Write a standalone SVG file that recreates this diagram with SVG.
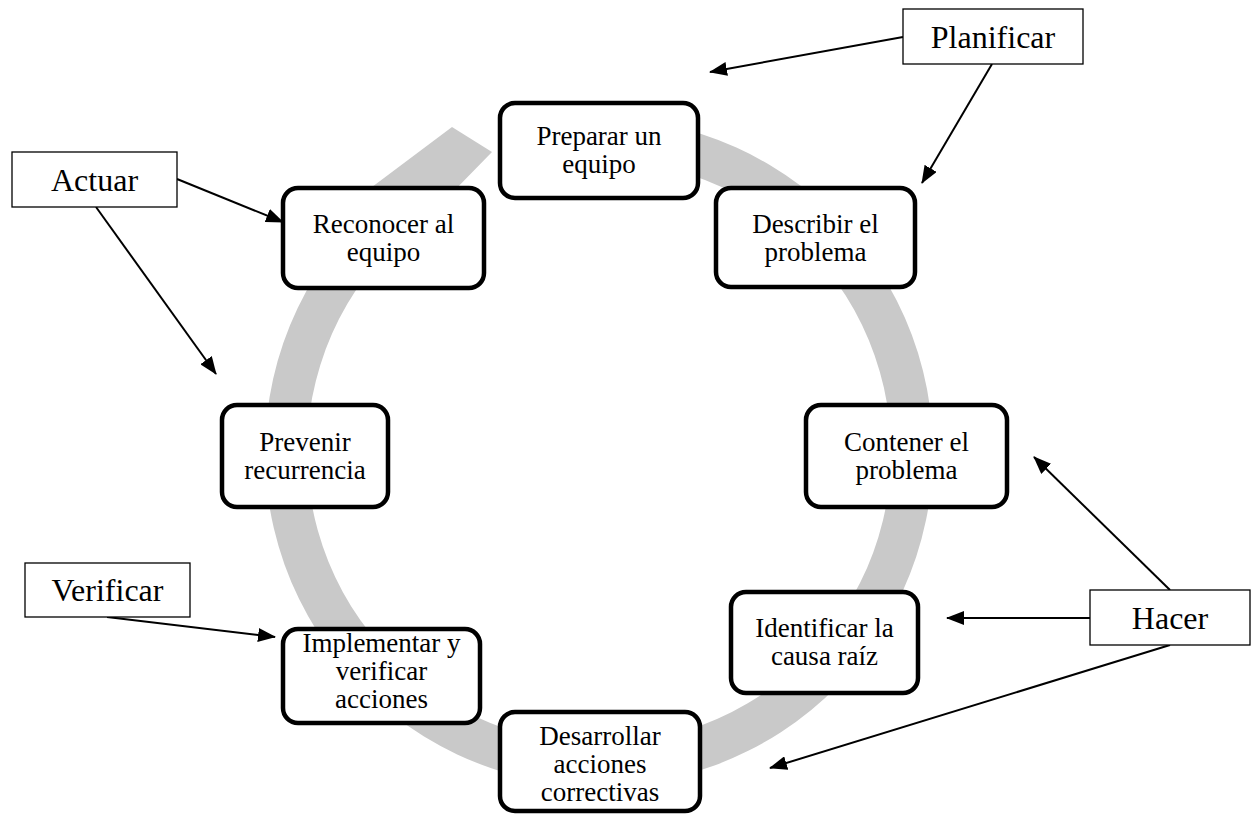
<svg xmlns="http://www.w3.org/2000/svg" width="1259" height="814" viewBox="0 0 1259 814">
  <defs>
    <marker id="arrow" markerUnits="userSpaceOnUse" viewBox="0 0 18 14" markerWidth="18" markerHeight="14" refX="17" refY="7" orient="auto">
      <path d="M0,0 L18,7 L0,14 z" fill="#000"/>
    </marker>
    <style>
      .node rect { fill: #fff; stroke: #000; stroke-width: 4.5; }
      .node text { font-family: "Liberation Serif", "Times New Roman", serif; font-size: 27px; fill: #000; text-anchor: middle; }
      .label rect { fill: #fff; stroke: #000; stroke-width: 1.3; }
      .label text { font-family: "Liberation Serif", "Times New Roman", serif; font-size: 32px; fill: #000; text-anchor: middle; }
      .conn line { stroke: #000; stroke-width: 2; marker-end: url(#arrow); }
    </style>
  </defs>
  <rect width="1259" height="814" fill="#fff"/>

  <!-- circular cycle arrow: ring from under the top step, clockwise, ending in a flared head at top-left -->
  <g id="cycle">
    <path d="M 552.5 121.3 A 334 334 0 1 1 315.8 275 L 372 187 L 452 127 L 492 152 L 450 195 L 365.8 276.3 A 292 292 0 1 0 558.4 162.8 Z" fill="#c9c9c9"/>
  </g>

  <!-- connectors -->
  <g id="connectors" class="conn">
    <line x1="903" y1="37" x2="710" y2="72"/>
    <line x1="992" y1="64" x2="922" y2="183"/>
    <line x1="177" y1="179" x2="283" y2="222"/>
    <line x1="96" y1="207" x2="216" y2="374"/>
    <line x1="107" y1="617" x2="275" y2="637"/>
    <line x1="1170" y1="590" x2="1034" y2="457"/>
    <line x1="1090" y1="618" x2="947" y2="618"/>
    <line x1="1170" y1="645" x2="770" y2="768"/>
  </g>

  <!-- cycle steps -->
  <g id="preparar" class="node">
    <rect x="500" y="103" width="198" height="95" rx="15"/>
    <text x="599" y="145">Preparar un</text>
    <text x="599" y="173">equipo</text>
  </g>
  <g id="describir" class="node">
    <rect x="716" y="188" width="199" height="99" rx="15"/>
    <text x="815.5" y="233">Describir el</text>
    <text x="815.5" y="261">problema</text>
  </g>
  <g id="contener" class="node">
    <rect x="806" y="405" width="201" height="102" rx="15"/>
    <text x="906.5" y="451">Contener el</text>
    <text x="906.5" y="479">problema</text>
  </g>
  <g id="identificar" class="node">
    <rect x="731" y="592" width="187" height="101" rx="15"/>
    <text x="824.5" y="637">Identificar la</text>
    <text x="824.5" y="665">causa raíz</text>
  </g>
  <g id="desarrollar" class="node">
    <rect x="500" y="712" width="200" height="99" rx="15"/>
    <text x="600" y="745">Desarrollar</text>
    <text x="600" y="773">acciones</text>
    <text x="600" y="801">correctivas</text>
  </g>
  <g id="implementar" class="node">
    <rect x="283" y="629" width="197" height="94" rx="15"/>
    <text x="381.5" y="652">Implementar y</text>
    <text x="381.5" y="680">verificar</text>
    <text x="381.5" y="708">acciones</text>
  </g>
  <g id="prevenir" class="node">
    <rect x="222" y="405" width="166" height="102" rx="15"/>
    <text x="305" y="451">Prevenir</text>
    <text x="305" y="479">recurrencia</text>
  </g>
  <g id="reconocer" class="node">
    <rect x="283" y="188" width="201" height="100" rx="15"/>
    <text x="383.5" y="233">Reconocer al</text>
    <text x="383.5" y="261">equipo</text>
  </g>

  <!-- phase labels -->
  <g id="planificar" class="label">
    <rect x="903" y="9" width="180" height="55"/>
    <text x="993" y="48">Planificar</text>
  </g>
  <g id="actuar" class="label">
    <rect x="12" y="152" width="165" height="55"/>
    <text x="94.5" y="191">Actuar</text>
  </g>
  <g id="verificar" class="label">
    <rect x="25" y="563" width="165" height="54"/>
    <text x="107.5" y="601">Verificar</text>
  </g>
  <g id="hacer" class="label">
    <rect x="1090" y="590" width="160" height="55"/>
    <text x="1170" y="629">Hacer</text>
  </g>
</svg>
